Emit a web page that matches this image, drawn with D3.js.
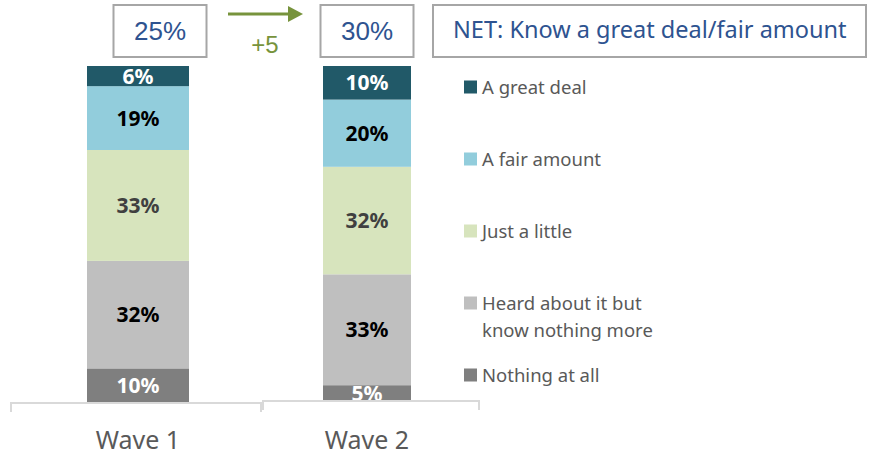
<!DOCTYPE html>
<html>
<head>
<meta charset="utf-8">
<script src="https://cdn.jsdelivr.net/npm/d3@7"></script>
<style>
  html, body { margin: 0; padding: 0; background: #ffffff; }
  svg { display: block; }
</style>
</head>
<body>
<svg id="chart" width="875" height="455"></svg>
<script>
// Awareness levels by survey wave (percent of respondents)
const waves = ["Wave 1", "Wave 2"];
const categories = ["A great deal", "A fair amount", "Just a little", "Heard about it but know nothing more", "Nothing at all"];
const legendLines = [["A great deal"], ["A fair amount"], ["Just a little"], ["Heard about it but", "know nothing more"], ["Nothing at all"]];
const greatDeal = [6, 10];
const fairAmount = [19, 20];
const justALittle = [33, 32];
const heardAbout = [32, 33];
const nothingAtAll = [10, 5];
const netValues = [25, 30];
const netTitle = "NET: Know a great deal/fair amount";

const colors = ["#215968", "#92CDDC", "#D7E4BD", "#BFBFBF", "#7F7F7F"];
const labelColors = ["#ffffff", "#000000", "#404040", "#000000", "#ffffff"];

const seriesValues = [greatDeal, fairAmount, justALittle, heardAbout, nothingAtAll];
const rows = waves.map((w, i) => {
  const r = { wave: w };
  categories.forEach((c, k) => { r[c] = seriesValues[k][i]; });
  return r;
});

const svg = d3.select("#chart");

// Bar centres, per-wave bar widths and axis bracket extents
const x = d3.scalePoint().domain(waves).range([138, 367]);
const barWidth = { "Wave 1": 102, "Wave 2": 88 };
const bracket = { "Wave 1": [-127, 123], "Wave 2": [-104, 112] };
const y = d3.scaleLinear().domain([0, 100]).range([402, 66]);

// Stack from the bottom: "Nothing at all" first, "A great deal" on top
const stackKeys = categories.slice().reverse();
const stacked = d3.stack().keys(stackKeys)(rows);

const defs = svg.append("defs");
const gBars = svg.append("g");

stacked.forEach(layer => {
  const k = categories.indexOf(layer.key);
  layer.forEach((seg, i) => {
    const w = rows[i].wave;
    const bw = barWidth[w];
    const x0 = x(w) - bw / 2;
    const yTop = y(seg[1]), yBot = y(seg[0]);
    const id = "clip-" + k + "-" + i;
    defs.append("clipPath").attr("id", id)
      .append("rect").attr("x", x0).attr("y", yTop).attr("width", bw).attr("height", yBot - yTop);
    gBars.append("rect")
      .attr("x", x0).attr("y", yTop)
      .attr("width", bw).attr("height", yBot - yTop)
      .attr("fill", colors[k]);
    gBars.append("text")
      .attr("clip-path", "url(#" + id + ")")
      .attr("x", x(w))
      .attr("y", (yTop + yBot) / 2)
      .attr("dy", "0.36em")
      .attr("text-anchor", "middle")
      .attr("font-family", "'Noto Sans', 'Open Sans', sans-serif")
      .attr("font-weight", "bold")
      .attr("font-size", 21)
      .attr("fill", labelColors[k])
      .text(seg.data[layer.key] + "%");
  });
});

// Category axis: one bracket per wave
const gAxis = svg.append("g");
waves.forEach((w, i) => {
  const [l, r] = bracket[w];
  const yb = y(0) + (i === 0 ? 1 : -1);
  gAxis.append("path")
    .attr("d", `M${x(w) + l},${yb + 9}V${yb}H${x(w) + r}V${yb + 9}`)
    .attr("fill", "none")
    .attr("stroke", "#d9d9d9")
    .attr("stroke-width", 2);
  gAxis.append("text")
    .attr("x", x(w))
    .attr("y", 449)
    .attr("text-anchor", "middle")
    .attr("font-family", "'Noto Sans', sans-serif")
    .attr("font-size", 25)
    .attr("fill", "#595959")
    .text(w);
});

// NET boxes above each bar
const boxW = 93;
waves.forEach((w, i) => {
  const cx = i === 0 ? x(w) + 22 : x(w);
  svg.append("rect")
    .attr("x", cx - boxW / 2).attr("y", 5)
    .attr("width", boxW).attr("height", 52)
    .attr("fill", "#ffffff").attr("stroke", "#a6a6a6").attr("stroke-width", 2);
  svg.append("text")
    .attr("x", cx).attr("y", 40)
    .attr("text-anchor", "middle")
    .attr("font-family", "'Liberation Sans', Arial, sans-serif")
    .attr("font-size", 26)
    .attr("fill", "#2E5390")
    .text(netValues[i] + "%");
});

// Change arrow between the NET boxes
const change = netValues[1] - netValues[0];
svg.append("line")
  .attr("x1", 228).attr("y1", 14).attr("x2", 290).attr("y2", 14)
  .attr("stroke", "#77933C").attr("stroke-width", 3);
svg.append("path")
  .attr("d", "M288,6L303,14L288,22Z")
  .attr("fill", "#77933C");
svg.append("text")
  .attr("x", 265).attr("y", 53)
  .attr("text-anchor", "middle")
  .attr("font-family", "'Liberation Sans', Arial, sans-serif")
  .attr("font-size", 24)
  .attr("fill", "#77933C")
  .text((change > 0 ? "+" : "") + change);

// NET title box
svg.append("rect")
  .attr("x", 433).attr("y", 5)
  .attr("width", 433).attr("height", 52)
  .attr("fill", "#ffffff").attr("stroke", "#a6a6a6").attr("stroke-width", 2);
svg.append("text")
  .attr("x", 453).attr("y", 38)
  .attr("font-family", "'Noto Sans', sans-serif")
  .attr("font-size", 23.5)
  .attr("fill", "#2E5390")
  .text(netTitle);

// Legend
const gLegend = svg.append("g");
categories.forEach((c, k) => {
  const cy = 87 + k * 72;
  gLegend.append("rect")
    .attr("x", 464).attr("y", cy - 6.5)
    .attr("width", 13).attr("height", 13)
    .attr("fill", colors[k]);
  const t = gLegend.append("text")
    .attr("font-family", "'Noto Sans', sans-serif")
    .attr("font-size", 18.5)
    .attr("fill", "#595959");
  legendLines[k].forEach((line, j) => {
    t.append("tspan").attr("x", 482).attr("y", cy + 6.5 + j * 27).text(line);
  });
});
</script>
</body>
</html>
